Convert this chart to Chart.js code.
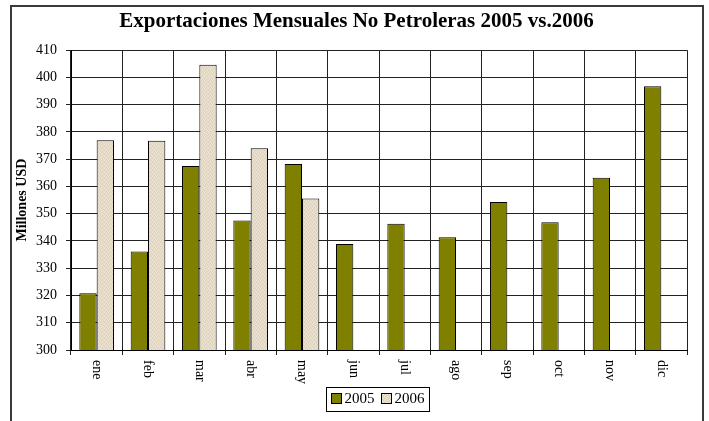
<!DOCTYPE html>
<html><head><meta charset="utf-8">
<script src="https://cdn.jsdelivr.net/npm/chart.js@4"></script>
<style>html,body{margin:0;padding:0;background:#fff}canvas{display:block}</style>
</head><body>
<canvas id="c" width="709" height="421"></canvas>
<script>
const months = ['ene','feb','mar','abr','may','jun','jul','ago','sep','oct','nov','dic'];
const exports2005 = [320.8, 336.1, 367.5, 347.5, 368.2, 338.9, 346.3, 341.4, 354.3, 346.9, 363.2, 396.8];
const exports2006 = [377.0, 376.8, 404.7, 374.0, 355.6, null, null, null, null, null, null, null];
const seriesNames = ['2005', '2006'];
const chartTitle = 'Exportaciones Mensuales No Petroleras 2005 vs.2006';
const yAxisTitle = 'Millones USD';
const yMin = 300, yMax = 410, yStep = 10;

const FONT = "'Liberation Serif', 'Times New Roman', serif";
const canvas = document.getElementById('c');
const ctx0 = canvas.getContext('2d');

function makePattern() {
  const p = document.createElement('canvas'); p.width = 4; p.height = 4;
  const g = p.getContext('2d');
  g.fillStyle = '#E5DBC7'; g.fillRect(0, 0, 4, 4);
  g.fillStyle = '#EDE5D6';
  g.fillRect(0, 0, 1, 1); g.fillRect(2, 1, 1, 1); g.fillRect(1, 3, 1, 1); g.fillRect(3, 2, 1, 1);
  g.fillStyle = '#DBD0BB';
  g.fillRect(1, 0, 1, 1); g.fillRect(3, 1, 1, 1); g.fillRect(0, 2, 1, 1); g.fillRect(2, 3, 1, 1);
  return ctx0.createPattern(p, 'repeat');
}
const beige = makePattern();
const olive = '#808000';

const framePlugin = {
  id: 'frame',
  beforeDraw(chart) {
    const c = chart.ctx;
    c.save();
    c.fillStyle = '#fff';
    c.fillRect(0, 0, chart.width, chart.height);
    c.strokeStyle = '#3a3a3a';
    c.lineWidth = 2;
    c.strokeRect(11, 6, 692, 450);
    c.restore();
  }
};

const xLabelPlugin = {
  id: 'xLabels',
  afterDraw(chart) {
    const c = chart.ctx, x = chart.scales.x;
    c.save();
    c.font = '14px ' + FONT;
    c.fillStyle = '#000';
    c.textAlign = 'left';
    c.textBaseline = 'middle';
    chart.data.labels.forEach((lab, i) => {
      const px = x.getPixelForValue(i);
      c.save();
      c.translate(px, x.top + 10);
      c.rotate(Math.PI / 2);
      c.fillText(lab, 0, 0);
      c.restore();
    });
    c.restore();
  }
};

const legendPlugin = {
  id: 'legendBox',
  afterDraw(chart) {
    const c = chart.ctx, area = chart.chartArea;
    c.save();
    c.font = '15px ' + FONT;
    const ds = chart.data.datasets;
    const box = 10, gapT = 3, gapI = 7, pad = 5;
    const widths = ds.map(d => c.measureText(d.label).width);
    let total = pad * 2 + gapI * (ds.length - 1);
    widths.forEach(w => total += box + gapT + w);
    const cx = (area.left + area.right) / 2 - 2;
    const cy = 398.5;
    const h = 24;
    let left = Math.round(cx - total / 2);
    c.strokeStyle = '#000'; c.lineWidth = 1;
    c.strokeRect(left + 0.5, Math.round(cy - h / 2) + 0.5, Math.round(total), h);
    let xx = left + pad + 0.5;
    c.textBaseline = 'middle'; c.textAlign = 'left'; c.fillStyle = '#000';
    ds.forEach((d, i) => {
      c.fillStyle = d.backgroundColor;
      c.fillRect(xx, cy - 5, box, box);
      c.strokeStyle = '#000';
      c.strokeRect(xx, cy - 5, box, box);
      c.fillStyle = '#000';
      c.fillText(d.label, xx + box + gapT, cy + 1);
      xx += box + gapT + widths[i] + gapI;
    });
    c.restore();
  }
};

new Chart(canvas, {
  type: 'bar',
  data: {
    labels: months,
    datasets: [
      { label: seriesNames[0], data: exports2005, backgroundColor: olive, borderColor: '#000', borderWidth: 1, categoryPercentage: 0.675, barPercentage: 1 },
      { label: seriesNames[1], data: exports2006, backgroundColor: beige, borderColor: '#000', borderWidth: 1, categoryPercentage: 0.675, barPercentage: 1 }
    ]
  },
  options: {
    responsive: false,
    animation: false,
    devicePixelRatio: 1,
    layout: { padding: { left: 26, right: 22, top: 0, bottom: 0 } },
    plugins: {
      legend: { display: false },
      tooltip: { enabled: false },
      title: {
        display: true, text: chartTitle, color: '#000',
        font: { family: FONT, size: 21, weight: 'bold' },
        padding: { top: 9, bottom: 16 }
      }
    },
    scales: {
      x: {
        grid: { color: '#222', offset: true, tickLength: 5, drawTicks: true },
        border: { color: '#000', width: 1 },
        ticks: { display: false },
        afterFit(s) { s.height = 71; }
      },
      y: {
        min: yMin, max: yMax,
        ticks: { stepSize: yStep, color: '#000', font: { family: FONT, size: 14 }, padding: 9 },
        grid: { color: '#222', tickLength: 5 },
        border: { color: '#000', width: 1 },
        title: { display: true, text: yAxisTitle, color: '#000', font: { family: FONT, size: 14, weight: 'bold' }, padding: { top: -12, bottom: 0 } },
        afterFit(s) { s.width = 45; }
      }
    }
  },
  plugins: [framePlugin, xLabelPlugin, legendPlugin]
});
</script>
</body></html>
